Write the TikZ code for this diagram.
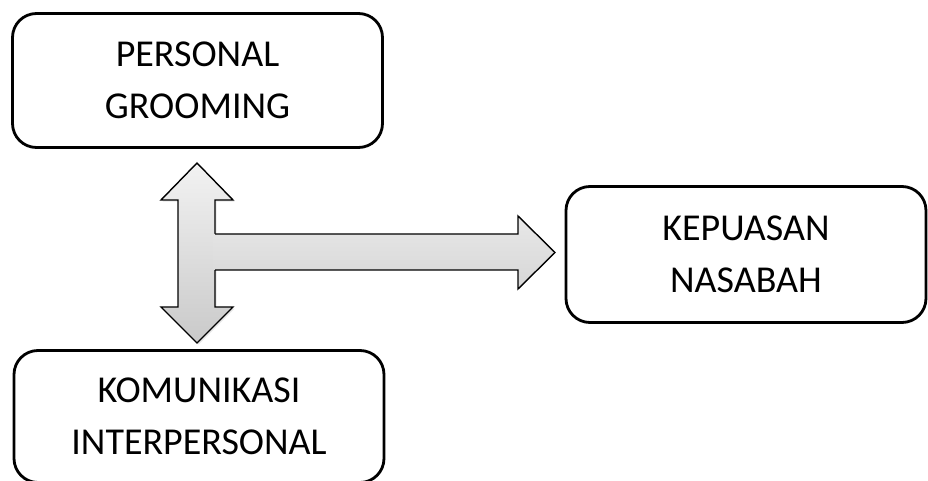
\documentclass[tikz,border=0pt]{standalone}
\usepackage{fontspec}
\setmainfont{Carlito}
\usetikzlibrary{positioning,shadows}

\begin{document}
\begin{tikzpicture}[x=0.5pt, y=-0.5pt,
    box/.style={draw, line width=1.4pt, rounded corners=12pt, align=center,
      font=\fontsize{19}{26}\selectfont},
    blockarrow/.style={line width=0.7pt, top color=gray!10, bottom color=gray!42}]
    \clip (0,0) rectangle (928,481);
    \node[box, minimum width=185pt, minimum height=67pt](pg) at (197.5,80.5){PERSONAL\\GROOMING};
    \node[box, minimum width=185pt, minimum height=66pt](ki) at (199,416.5){KOMUNIKASI\\INTERPERSONAL};
    \node[box, minimum width=180pt, minimum height=68pt](kn) at (746,254.5){KEPUASAN\\NASABAH};
    % double arrow between the two boxes on the left
    \path[blockarrow, draw, drop shadow={opacity=0.2, shadow xshift=0.8pt, shadow yshift=-0.8pt}]
      (197,163) -- (233,200) -- (215,200) -- (215,307) -- (233,307) -- (197,343)
      -- (161,307) -- (178,307) -- (178,200) -- (161,200) -- cycle;
    % arrow towards kn
    \path[blockarrow, top color=gray!18, bottom color=gray!32]
      (213,234) -- (518,234) -- (518,216) -- (555,252.5) -- (518,289) -- (518,270) -- (213,270) -- cycle;
    \draw[line width=0.7pt] (215,234) -- (518,234) -- (518,216) -- (555,252.5) -- (518,289) -- (518,270) -- (215,270);
  \end{tikzpicture}
\end{document}
